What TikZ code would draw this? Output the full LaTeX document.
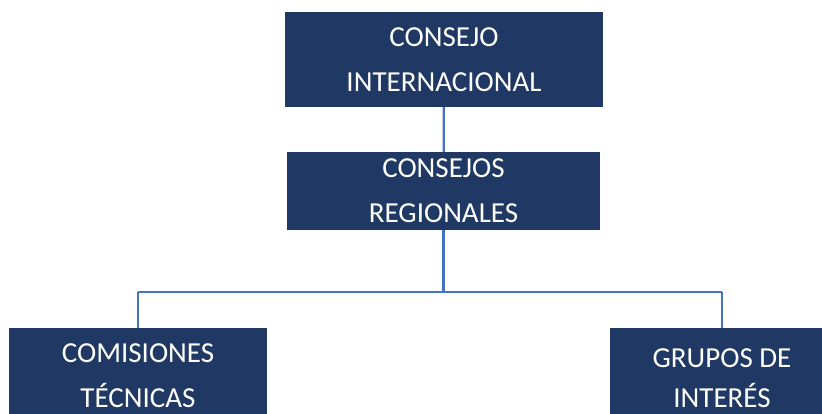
\documentclass[tikz,border=0pt]{standalone}
\usepackage{fontspec}
\setmainfont{Carlito}
\usepackage{tikz}
\usetikzlibrary{positioning,calc}

\definecolor{boxblue}{RGB}{32,56,100}
\definecolor{lineblue}{RGB}{68,114,196}

\begin{document}
\begin{tikzpicture}[x=1pt,y=-1pt,
    orgbox/.style={rectangle,fill=boxblue,text=white,inner sep=0pt,align=center,
        font=\fontsize{29}{45}\selectfont},
    link/.style={draw=lineblue,line width=2.2pt}]
        \useasboundingbox (0,0) rectangle (822,413);
        \clip (0,0) rectangle (822,413);

        % Upper boxes
        \node[orgbox,minimum width=318pt,minimum height=95pt] (intl) at (444,59.5) {CONSEJO\\INTERNACIONAL};
        \node[orgbox,minimum width=313pt,minimum height=78pt] (regional) at (443.5,191) {CONSEJOS\\REGIONALES};

        % Lower boxes (cut by the page edge)
        \node[orgbox,minimum width=258pt,minimum height=95pt] (comisiones) at (138,375.5) {COMISIONES\\TÉCNICAS};
        \node[orgbox,minimum width=224pt,minimum height=100pt,font=\fontsize{29}{40}\selectfont] (grupos) at (722,378) {GRUPOS DE\\INTERÉS};

        % Branch points
        \coordinate (busL) at (comisiones.north |- 0,292);
        \coordinate (busR) at (grupos.north |- 0,292);

        % Links
        \draw[link] (intl) -- (regional);
        \draw[link] (regional.south) -- (regional.south |- busL);
        \draw[link] (busL) -- (busR);
        \draw[link] (busL) -- (comisiones);
        \draw[link] (busR) -- (grupos);
    \end{tikzpicture}
\end{document}
